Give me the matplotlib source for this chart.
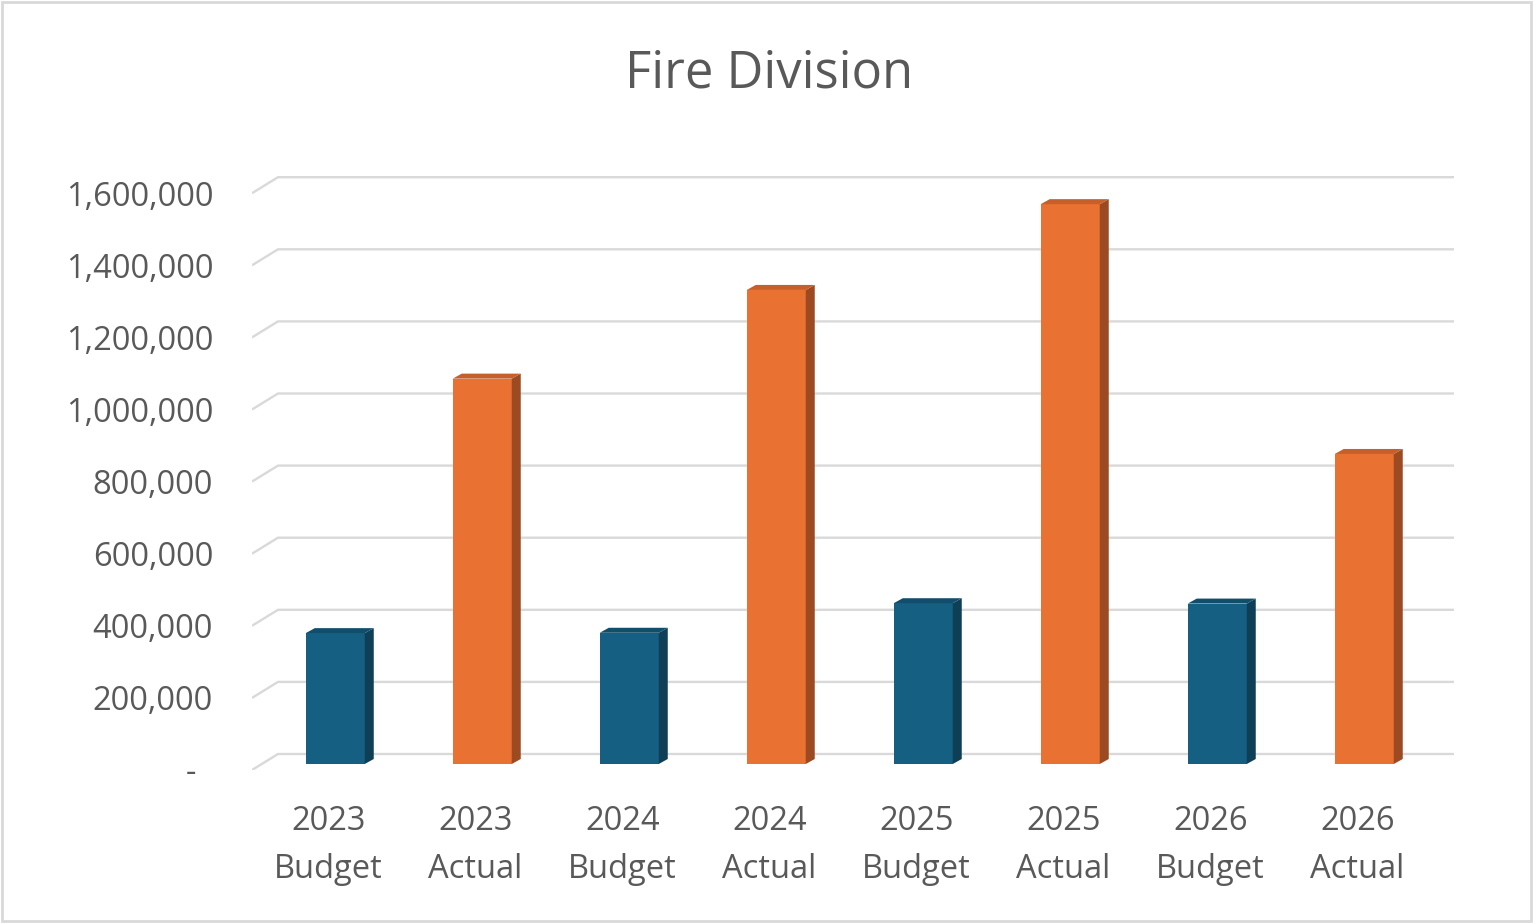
import matplotlib
matplotlib.use("Agg")
import matplotlib.pyplot as plt
from matplotlib.patches import Rectangle, Polygon

plt.rcParams["font.family"] = ["Open Sans", "DejaVu Sans"]

# ── data ──────────────────────────────────────────────────────────────────────
years = ["2023", "2023", "2024", "2024", "2025", "2025", "2026", "2026"]
kinds = ["Budget", "Actual", "Budget", "Actual", "Budget", "Actual", "Budget", "Actual"]
values = [363000, 1069000, 364000, 1315000, 446000, 1553000, 445000, 860000]
y_ticks = [0, 200000, 400000, 600000, 800000, 1000000, 1200000, 1400000, 1600000]

BLUE = ("#156082", "#0E3F56", "#114E6B")     # front, side, top
ORANGE = ("#E97132", "#9C4A22", "#C65F2A")
TEXT = "#595959"
GRID = "#D9D9D9"

# ── layout (pixels in a 1533x923 canvas) ──────────────────────────────────────
W, H = 1533, 923
fig = plt.figure(figsize=(W / 100, H / 100), dpi=100)
cat_px = 147.0
px_per_val = 72.1 / 200000
left_px, right_px, bot_px, top_px = 252, 1454, 770, 170
ax = fig.add_axes([left_px / W, (H - bot_px) / H,
                   (right_px - left_px) / W, (bot_px - top_px) / H])
ax.set_xlim(-0.5, -0.5 + (right_px - left_px) / cat_px)
ax.set_ylim(0, (bot_px - top_px) / px_per_val)
for s in ax.spines.values():
    s.set_visible(False)

# perspective depth of the floor/back wall
gdx = 26 / cat_px
gdy = 16 / px_per_val
x_end = 7.5 + gdx

# gridlines: slant on the left, then the back wall line
for t in y_ticks:
    ax.plot([-0.5, -0.5 + gdx, x_end], [t, t + gdy, t + gdy],
            color=GRID, lw=1.7, zorder=1, solid_capstyle="butt")

# bars as fake 3D boxes
f = 0.375
bw = 59 / cat_px
ddx = 9 / cat_px
ddy = 5 / px_per_val
for i, (v, k) in enumerate(zip(values, kinds)):
    front, side, top = BLUE if k == "Budget" else ORANGE
    x0 = i - bw / 2 + f * gdx
    b = f * gdy
    ax.add_patch(Rectangle((x0, b), bw, v, facecolor=front, edgecolor="none", zorder=3))
    ax.add_patch(Polygon([(x0 + bw, b), (x0 + bw + ddx, b + ddy),
                          (x0 + bw + ddx, b + v + ddy), (x0 + bw, b + v)],
                         closed=True, facecolor=side, edgecolor="none", zorder=3))
    ax.add_patch(Polygon([(x0, b + v), (x0 + ddx, b + v + ddy),
                          (x0 + bw + ddx, b + v + ddy), (x0 + bw, b + v)],
                         closed=True, facecolor=top, edgecolor="none", zorder=3))

# axis labels
ax.set_yticks(y_ticks)
ax.set_yticklabels(["-  " if t == 0 else f"{t:,}" for t in y_ticks])
ax.set_xticks([i + 0.02 for i in range(len(values))])
ax.set_xticklabels([f"{y}\n{k}" for y, k in zip(years, kinds)], linespacing=1.6)
ax.tick_params(axis="y", length=0, pad=28, labelsize=23.5, labelcolor=TEXT)
ax.tick_params(axis="x", length=0, pad=25, labelsize=23.5, labelcolor=TEXT)

fig.text(769 / W, 1 - 74 / H, "Fire Division", ha="center", va="center",
         fontsize=36.5, color=TEXT)

# chart border
fig.patches.append(Rectangle((2 / W, 2 / H), (W - 4) / W, (H - 4) / H,
                             transform=fig.transFigure, fill=False,
                             edgecolor="#D9D9D9", lw=2))

fig.savefig("out.png", dpi=100)
